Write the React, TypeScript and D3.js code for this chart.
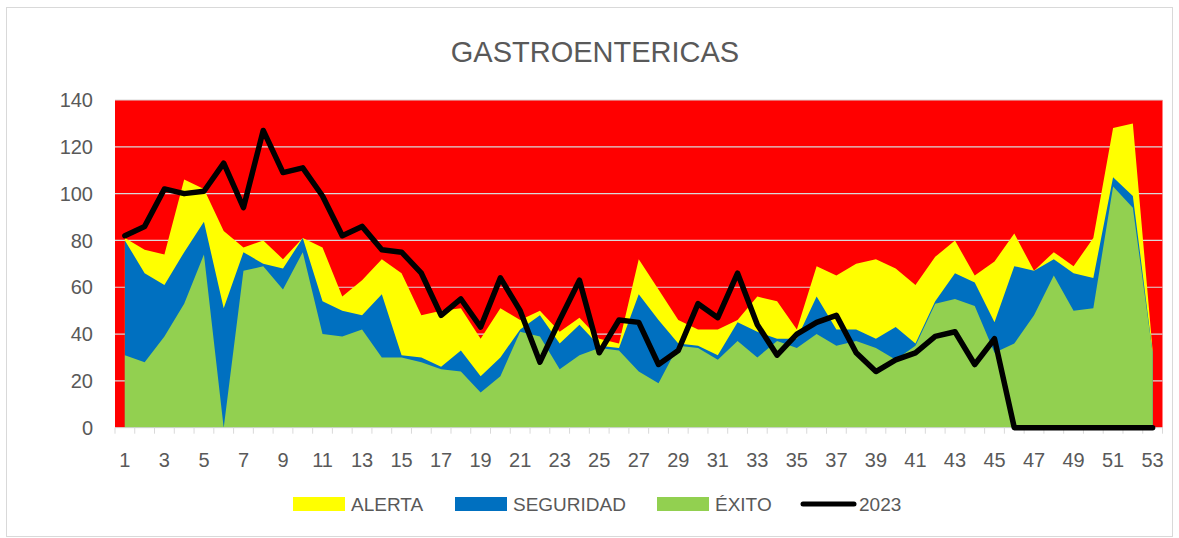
import React from "react";
import * as d3 from "d3";

// semanas epidemiologicas
const weeks: number[] = d3.range(1, 54);

const alerta: number[] = [
  81, 76, 74, 106, 102, 84, 77, 80, 72, 81, 77, 56, 63, 72, 66, 48, 50, 51, 38, 51,
  46, 50, 41, 47, 38, 36, 72, 59, 46, 42, 42, 46, 56, 54, 42, 69, 65, 70, 72, 68,
  61, 73, 80, 65, 71, 83, 67, 75, 69, 81, 128, 130, 33,
];

const seguridad: number[] = [
  80, 66, 61, 75, 88, 51, 75, 70, 68, 81, 54, 50, 48, 57, 31, 30, 26, 33, 22, 30,
  42, 48, 36, 44, 35, 34, 57, 46, 36, 35, 31, 45, 41, 38, 38, 56, 42, 42, 38, 43,
  36, 54, 66, 62, 45, 69, 67, 72, 66, 64, 107, 99, 32,
];

const exito: number[] = [
  31, 28, 39, 53, 74, 0, 67, 69, 59, 75, 40, 39, 42, 30, 30, 28, 25, 24, 15, 22,
  41, 39, 25, 31, 34, 33, 24, 19, 35, 34, 29, 37, 30, 37, 34, 40, 35, 37, 34, 29,
  35, 53, 55, 52, 32, 36, 48, 65, 50, 51, 103, 94, 32,
];

const casos2023: number[] = [
  82, 86, 102, 100, 101, 113, 94, 127, 109, 111, 99, 82, 86, 76, 75, 66, 48, 55, 43, 64,
  50, 28, 46, 63, 32, 46, 45, 27, 33, 53, 47, 66, 44, 31, 40, 45, 48, 32, 24, 29,
  32, 39, 41, 27, 38, 0, 0, 0, 0, 0, 0, 0, 0,
];

const yTicks: number[] = [0, 20, 40, 60, 80, 100, 120, 140];

const legendItems = [
  { label: "ALERTA", color: "#FFFF00", kind: "area", x: 293 },
  { label: "SEGURIDAD", color: "#0070C0", kind: "area", x: 455 },
  { label: "ÉXITO", color: "#92D050", kind: "area", x: 657 },
  { label: "2023", color: "#000000", kind: "line", x: 801 },
];

const W = 1179;
const H = 538;
const textColor = "#595959";
const font = "'Liberation Sans', Arial, sans-serif";

const App: React.FC = () => {
  const left = 115;
  const right = 1162.5;
  const top = 100;
  const bottom = 427.7;

  const x = d3.scaleBand<number>().domain(weeks).range([left, right]).padding(0);
  const cx = (w: number) => (x(w) ?? 0) + x.bandwidth() / 2;
  const y = d3.scaleLinear().domain([0, 140]).range([bottom, top]);

  const area = (vals: number[]) =>
    d3.area<number>()
      .x((_, i) => cx(weeks[i]))
      .y0(y(0))
      .y1((d) => y(d))(vals) || "";

  const line = d3.line<number>()
    .x((_, i) => cx(weeks[i]))
    .y((d) => y(d));

  return (
    <svg width={W} height={H} style={{ position: "absolute", left: 0, top: 0, background: "#fff" }}>
      <rect x={6.5} y={7.5} width={1166} height={529} fill="#fff" stroke="#d9d9d9" />

      <text x={595} y={62} textAnchor="middle" fontFamily={font} fontSize={29} fill={textColor}>
        GASTROENTERICAS
      </text>

      {/* plot area fill */}
      <rect x={left} y={top} width={right - left} height={bottom - top} fill="#FF0000" />

      {yTicks.map((t) => (
        <g key={t}>
          {t > 0 && (
            <line x1={left} x2={right} y1={y(t)} y2={y(t)} stroke="#d9d9d9" strokeWidth={1.2} />
          )}
          <text x={93} y={y(t)} dy="0.36em" textAnchor="end" fontFamily={font} fontSize={20} fill={textColor}>
            {t}
          </text>
        </g>
      ))}

      <path d={area(alerta)} fill="#FFFF00" />
      <path d={area(seguridad)} fill="#0070C0" />
      <path d={area(exito)} fill="#92D050" />

      {/* x axis */}
      <line x1={left} x2={right} y1={bottom} y2={bottom} stroke="#d9d9d9" strokeWidth={1} />
      {weeks.map((w) => (
        <line key={"t" + w} x1={x(w)} x2={x(w)} y1={bottom} y2={bottom + 6} stroke="#d9d9d9" />
      ))}
      <line x1={right} x2={right} y1={bottom} y2={bottom + 6} stroke="#d9d9d9" />
      {weeks.filter((w) => w % 2 === 1).map((w) => (
        <text key={"l" + w} x={cx(w)} y={467} textAnchor="middle" fontFamily={font} fontSize={20} fill={textColor}>
          {w}
        </text>
      ))}

      <path d={line(casos2023) || ""} fill="none" stroke="#000" strokeWidth={5.5} strokeLinejoin="round" strokeLinecap="round" />

      {/* legend */}
      {legendItems.map((it) => (
        <g key={it.label}>
          {it.kind === "area" ? (
            <rect x={it.x} y={497} width={52} height={14} fill={it.color} />
          ) : (
            <line x1={it.x + 2} x2={it.x + 53} y1={504} y2={504} stroke={it.color} strokeWidth={5} strokeLinecap="round" />
          )}
          <text x={it.x + 58} y={511} fontFamily={font} fontSize={19} fill={textColor}>
            {it.label}
          </text>
        </g>
      ))}
    </svg>
  );
};

export default App;
